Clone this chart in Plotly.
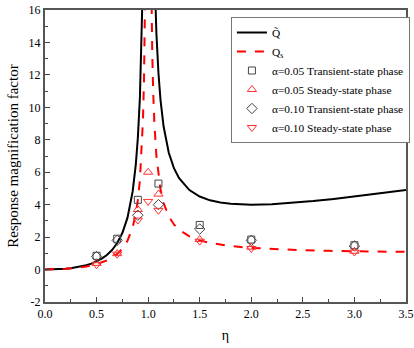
import plotly.graph_objects as go

# Q~ curve (black solid), two branches separated by None
eta_qt = [0, 0.05, 0.1, 0.15, 0.2, 0.25, 0.3, 0.35, 0.4, 0.45, 0.5, 0.55, 0.6, 0.65, 0.7, 0.75,
          0.8, 0.85, 0.88, 0.9, 0.92, 0.93, 0.94, 0.95, None,
          1.06, 1.07, 1.08, 1.1, 1.12, 1.15, 1.2, 1.25, 1.3, 1.4, 1.5, 1.6, 1.7, 1.8, 1.9, 2.0,
          2.2, 2.4, 2.6, 2.8, 3.0, 3.2, 3.4, 3.5]
q_tilde = [0, 0.003, 0.011, 0.027, 0.05, 0.083, 0.129, 0.189, 0.267, 0.368, 0.5, 0.672, 0.9, 1.207,
           1.633, 2.25, 3.2, 4.817, 6.453, 8.1, 10.58, 12.36, 14.73, 18.05, None,
           18.73, 16.36, 14.58, 12.1, 10.45, 8.817, 7.2, 6.25, 5.633, 4.9, 4.5, 4.267, 4.129, 4.05,
           4.011, 4.0, 4.033, 4.114, 4.225, 4.356, 4.5, 4.655, 4.817, 4.9]

# Qs curve (red dashed)
eta_qs = [0, 0.1, 0.2, 0.3, 0.4, 0.5, 0.6, 0.7, 0.75, 0.8, 0.85, 0.88, 0.9, 0.92, 0.94, 0.95,
          0.96, 0.965, 0.97, 0.975, None,
          1.025, 1.03, 1.035, 1.04, 1.05, 1.06, 1.08, 1.1, 1.12, 1.15, 1.2, 1.25, 1.3, 1.4, 1.5,
          1.6, 1.8, 2.0, 2.25, 2.5, 2.75, 3.0, 3.25, 3.5]
q_s = [0, 0.010, 0.042, 0.099, 0.19, 0.333, 0.563, 0.961, 1.286, 1.778, 2.604, 3.433, 4.263, 5.51,
       7.59, 9.256, 11.755, 13.54, 15.92, 19.25, None,
       20.75, 17.42, 15.04, 13.25, 10.76, 9.09, 7.01, 5.762, 4.931, 4.101, 3.273, 2.778, 2.449,
       2.042, 1.8, 1.641, 1.446, 1.333, 1.246, 1.19, 1.152, 1.125, 1.105, 1.089]

# Measured points
eta_tr = [0.5, 0.7, 0.9, 1.1, 1.5, 2.0, 3.0]
eta_st = [0.5, 0.7, 0.9, 1.0, 1.1, 1.5, 2.0, 3.0]
a005_transient = [0.85, 1.9, 4.3, 5.3, 2.75, 1.85, 1.5]
a005_steady = [0.38, 0.98, 3.7, 6.0, 4.65, 1.85, 1.38, 1.13]
a010_transient = [0.8, 1.8, 3.35, 4.0, 2.5, 1.8, 1.45]
a010_steady = [0.3, 0.95, 3.05, 4.2, 3.65, 1.75, 1.3, 1.08]

x_ticks = [0.0, 0.5, 1.0, 1.5, 2.0, 2.5, 3.0, 3.5]
y_ticks = [-2, 0, 2, 4, 6, 8, 10, 12, 14, 16]

FONT = "Liberation Serif"

fig = go.Figure()
fig.add_trace(go.Scatter(x=eta_qt, y=q_tilde, mode="lines", name="Q\u0303",
                         line=dict(color="black", width=2), connectgaps=False))
fig.add_trace(go.Scatter(x=eta_qs, y=q_s, mode="lines", name="Q<sub>s</sub>",
                         line=dict(color="#ff0000", width=2, dash="dash"), connectgaps=False))
fig.add_trace(go.Scatter(x=eta_tr, y=a005_transient, mode="markers",
                         name="\u03b1=0.05 Transient-state phase",
                         marker=dict(symbol="square-open", size=7, color="#444444", line=dict(width=1))))
fig.add_trace(go.Scatter(x=eta_st, y=a005_steady, mode="markers",
                         name="\u03b1=0.05 Steady-state phase",
                         marker=dict(symbol="triangle-up-open", size=8, color="#ff3030", line=dict(width=1))))
fig.add_trace(go.Scatter(x=eta_tr, y=a010_transient, mode="markers",
                         name="\u03b1=0.10 Transient-state phase",
                         marker=dict(symbol="diamond-open", size=8, color="#444444", line=dict(width=1))))
fig.add_trace(go.Scatter(x=eta_st, y=a010_steady, mode="markers",
                         name="\u03b1=0.10 Steady-state phase",
                         marker=dict(symbol="triangle-down-open", size=8, color="#ff3030", line=dict(width=1))))

fig.update_layout(
    width=414, height=348,
    margin=dict(l=45, r=8, t=10, b=46, autoexpand=False),
    paper_bgcolor="white", plot_bgcolor="white",
    font=dict(family=FONT, size=12, color="black"),
    showlegend=True,
    legend=dict(x=0.515, y=0.976, xanchor="left", yanchor="top",
                bordercolor="#777777", borderwidth=1, bgcolor="white",
                font=dict(family=FONT, size=11.4), tracegroupgap=0, itemwidth=30),
)
fig.update_xaxes(range=[0, 3.5], tickvals=x_ticks, ticktext=[f"{v:.1f}" for v in x_ticks],
                 ticks="inside", ticklen=5, tickwidth=1, tickcolor="#444",
                 minor=dict(dtick=0.25, ticks="inside", ticklen=3, tickcolor="#444"),
                 showline=True, linecolor="#555555", linewidth=2, mirror=True,
                 showgrid=False, zeroline=False,
                 title=dict(text="\u03b7", font=dict(family=FONT, size=14), standoff=10),
                 tickfont=dict(family=FONT, size=12))
fig.update_yaxes(range=[-2, 16], tickvals=y_ticks, ticktext=[str(v) for v in y_ticks],
                 ticks="inside", ticklen=5, tickwidth=1, tickcolor="#444",
                 minor=dict(dtick=1, ticks="inside", ticklen=3, tickcolor="#444"),
                 showline=True, linecolor="#555555", linewidth=2, mirror=True,
                 showgrid=False, zeroline=False,
                 title=dict(text="Response magnification factor", font=dict(family=FONT, size=15), standoff=6),
                 tickfont=dict(family=FONT, size=12))

fig.write_html("out.html", config={"displayModeBar": False},
               post_script="document.body.style.margin='0';")
